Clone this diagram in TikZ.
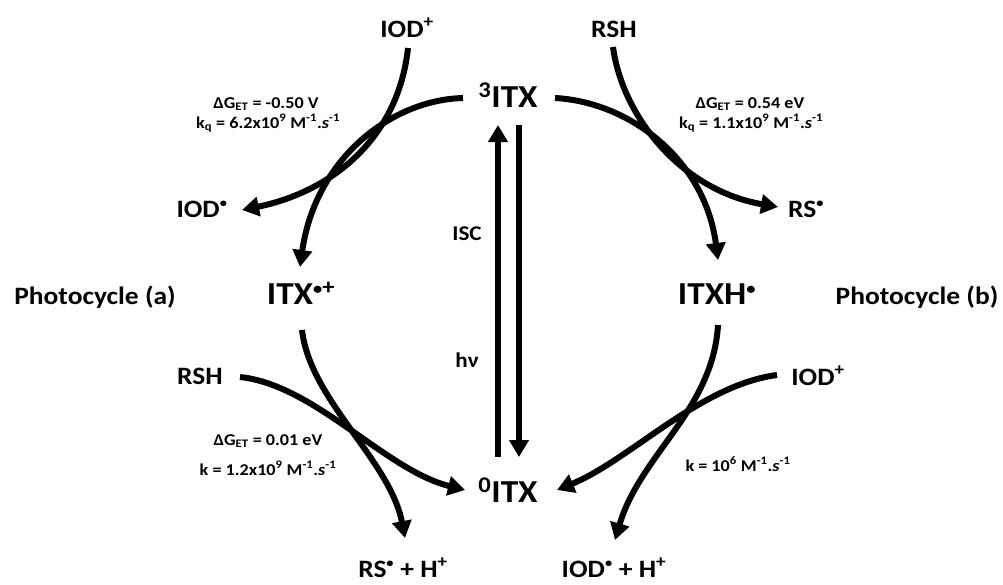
\documentclass[tikz,border=0pt]{standalone}
\usepackage{fontspec}
\setmainfont{Carlito}[FakeStretch=1.1]
\usetikzlibrary{arrows.meta}
\newcommand{\rdot}{\scalebox{0.75}{•}}
\begin{document}
\begin{tikzpicture}[x=1pt,y=-1pt,
  lbl/.style={inner sep=0pt,anchor=base},
  biglbl/.style={lbl,font=\fontsize{32}{34}\selectfont\bfseries},
  mdlbl/.style={lbl,font=\fontsize{25}{27}\selectfont\bfseries},
  arrlbl/.style={lbl,font=\fontsize{21}{23}\selectfont\bfseries},
  smlbl/.style={lbl,font=\fontsize{16.5}{18}\selectfont\bfseries},
  arr/.style={line width=6pt,-{Triangle[width=19pt,length=17pt]}}]
\useasboundingbox (0,0) rectangle (1003,584);
% main species
\node[biglbl] (t3) at (508,107) {\textsuperscript{3}ITX};
\node[biglbl] (t0) at (508,502) {\textsuperscript{0}ITX};
\node[biglbl] (cat) at (301,304) {ITX\textsuperscript{\rdot+}};
\node[biglbl] (rad) at (717,304) {ITXH\textsuperscript{\rdot}};
\node[mdlbl] (pa) at (95,304) {Photocycle (a)};
\node[mdlbl] (pb) at (917,304) {Photocycle (b)};
% reagents
\node[mdlbl] (iodt) at (407,37) {IOD\textsuperscript{+}};
\node[mdlbl] (rsht) at (614,37) {RSH};
\node[mdlbl] (iodr) at (202,217) {IOD\textsuperscript{\rdot}};
\node[mdlbl] (rsr) at (806,217) {RS\textsuperscript{\rdot}};
\node[mdlbl] (rshb) at (200,384) {RSH};
\node[mdlbl] (iodb) at (818,385) {IOD\textsuperscript{+}};
\node[mdlbl] (rsh) at (403,577) {RS\textsuperscript{\rdot} + H\textsuperscript{+}};
\node[mdlbl] (iodh) at (614,577) {IOD\textsuperscript{\rdot} + H\textsuperscript{+}};
% small labels
\node[arrlbl] (isc) at (467,240) {ISC};
\node[arrlbl] (hv) at (467,367) {hν};
\node[smlbl] (g1) at (266,108) {ΔG\textsubscript{ET} = -0.50 V};
\node[smlbl] (k1) at (268,128) {k\textsubscript{q} = 6.2x10\textsuperscript{9} M\textsuperscript{-1}.\textit{s}\textsuperscript{-1}};
\node[smlbl] (g2) at (750,108) {ΔG\textsubscript{ET} = 0.54 eV};
\node[smlbl] (k2) at (751,128) {k\textsubscript{q} = 1.1x10\textsuperscript{9} M\textsuperscript{-1}.\textit{s}\textsuperscript{-1}};
\node[smlbl] (g3) at (268,445) {ΔG\textsubscript{ET} = 0.01 eV};
\node[smlbl] (k3) at (268,475) {k = 1.2x10\textsuperscript{9} M\textsuperscript{-1}.\textit{s}\textsuperscript{-1}};
\node[smlbl] (k4) at (738,471) {k = 10\textsuperscript{6} M\textsuperscript{-1}.\textit{s}\textsuperscript{-1}};
% anchor coordinates for connectors
\coordinate (a1) at (408,48);  \coordinate (a2) at (242,210);
\coordinate (b1) at (463,98);  \coordinate (b2) at (300,267);
\coordinate (c1) at (613,47);  \coordinate (c2) at (778,207);
\coordinate (d1) at (555,98);  \coordinate (d2) at (718,260);
\coordinate (e1) at (302,330); \coordinate (e2) at (405,538);
\coordinate (f1) at (240,377); \coordinate (f2) at (465,490);
\coordinate (g1s) at (718,325); \coordinate (g2s) at (615,540);
\coordinate (h1) at (777,375); \coordinate (h2) at (557,490);
\coordinate (u1) at (498,457); \coordinate (u2) at (498,125);
\coordinate (v1) at (519,125); \coordinate (v2) at (519,457);
% curves
\draw[arr] (a1) .. controls (398,140) and (330,192) .. (a2);
\draw[arr] (b1) .. controls (390,100) and (315,160) .. (b2);
\draw[arr] (c1) .. controls (622,115) and (680,190) .. (c2);
\draw[arr] (d1) .. controls (630,102) and (705,160) .. (d2);
\draw[arr] (e1) .. controls (310,400) and (390,460) .. (e2);
\draw[arr] (f1) .. controls (315,385) and (385,470) .. (f2);
\draw[arr] (g1s) .. controls (713,410) and (640,455) .. (g2s);
\draw[arr] (h1) .. controls (700,385) and (630,460) .. (h2);
\draw[arr] (u1) -- (u2);
\draw[arr] (v1) -- (v2);
\end{tikzpicture}
\end{document}
